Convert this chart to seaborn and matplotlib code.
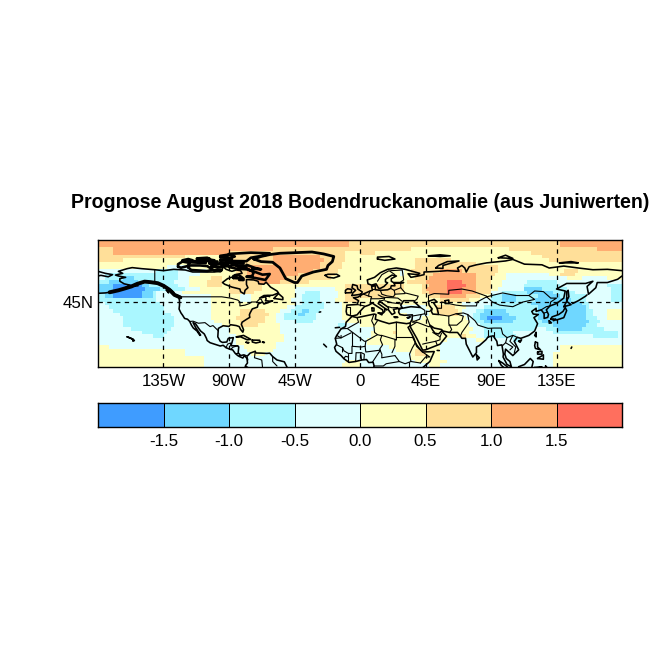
import numpy as np, pandas as pd
import matplotlib
matplotlib.use("Agg")
import matplotlib.pyplot as plt
import seaborn as sns
from matplotlib.colors import ListedColormap

sns.set_style("white")
plt.rcParams['font.family'] = ['Liberation Sans', 'DejaVu Sans']
plt.rcParams['xtick.color'] = 'k'
plt.rcParams['ytick.color'] = 'k'

# ---------- colour classes, class 0 = below -1.5 ... class 7 = above 1.5 ----------
level_colors = ["#3f9cff", "#6fd7ff", "#aaf7ff", "#e0ffff", "#ffffc0", "#ffdf99", "#ffad72", "#ff6f5e"]
level_mid = [-1.75, -1.25, -0.75, -0.25, 0.25, 0.75, 1.25, 1.75]
cbar_labels = ["-1.5", "-1.0", "-0.5", "0.0", "0.5", "1.0", "1.5"]
lon_ticks = [-135, -90, -45, 0, 45, 90, 135]
lon_labels = ["135W", "90W", "45W", "0", "45E", "90E", "135E"]

# the map's latitude axis is not quite linear, scale read from known coasts
scale_lat = [0, 8, 18.5, 33.5, 45, 63.5, 71, 83.5, 90]
scale_y = [-2, 10, 25, 47, 65, 89, 99, 115, 123]

# ---------- anomaly classes, "class:cells" per 2.5 deg row, north to south ----------
rows_180w_90w = [
    "6:36", "6:36", "5:4 6:32", "5:4 6:32", "5:24 4:12", "5:7 4:29", "4:36",
    "4:19 3:6 4:11", "3:16 2:6 3:8 4:6", "3:2 2:20 3:6 4:8",
    "3:2 2:5 1:3 2:12 3:3 4:6 5:3 4:2", "2:3 1:8 2:10 3:4 4:5 5:4 4:2",
    "1:4 0:8 1:2 2:8 3:3 4:5 5:4 4:2", "1:4 0:9 1:4 2:7 3:4 4:8",
    "1:3 0:9 1:3 2:1 3:7 4:13", "2:2 1:2 0:8 1:3 2:1 3:15 4:5",
    "2:16 3:15 4:5", "3:2 2:15 3:14 4:5", "3:3 2:15 3:13 4:5", "3:4 2:14 3:13 4:5",
    "3:6 2:14 3:11 4:5", "3:7 2:14 3:10 4:5", "3:7 2:14 3:11 4:4", "3:7 2:14 3:13 4:2",
    "3:9 2:11 3:16", "3:12 2:7 3:17", "3:15 2:3 3:18", "3:36", "3:36", "4:3 3:33",
    "4:24 3:12", "4:24 3:12", "4:29 3:7", "4:29 3:7", "4:29 3:7",
]
rows_90w_0 = [
    "6:33 5:3", "6:33 5:3", "6:12 5:24", "5:32 4:4", "5:12 6:13 5:7 4:4",
    "5:12 6:14 5:6 4:4", "4:3 5:9 6:13 5:6 4:5", "5:5 6:20 5:6 4:5",
    "4:2 5:3 6:18 5:7 4:6", "4:2 5:3 6:14 5:10 4:7", "4:1 5:5 6:10 5:12 4:8",
    "5:8 6:6 5:8 4:14", "5:9 4:23 5:4", "5:9 4:9 3:11 4:3 5:4",
    "5:7 4:11 3:3 2:4 3:5 4:2 5:4", "4:3 3:3 4:12 3:2 2:5 3:5 4:2 5:4",
    "4:3 3:3 4:11 3:3 2:5 3:4 4:3 5:4", "4:18 3:2 2:6 3:5 4:5", "4:16 3:2 2:8 3:5 4:5",
    "4:3 5:7 4:4 3:3 2:3 1:2 2:3 3:6 4:5", "4:3 5:8 4:2 3:2 2:4 1:2 2:3 3:7 4:5",
    "4:2 5:8 4:3 3:2 2:9 3:7 4:5", "4:3 5:7 4:3 3:5 2:5 3:9 4:4",
    "4:3 5:5 4:6 3:16 2:2 3:4", "4:14 3:22", "4:14 3:22", "3:2 4:13 3:21", "3:2 4:13 3:21",
    "3:2 4:11 3:23", "3:4 4:9 3:23", "3:5 4:7 3:24", "3:6 4:4 3:26", "3:36", "3:32 4:4", "3:31 4:5",
]
rows_0_90e = [
    "5:36", "5:36", "5:14 4:22", "5:4 4:32", "4:36", "4:15 5:10 4:11", "4:15 5:17 4:4",
    "4:15 5:21", "4:11 3:1 4:2 5:8 6:6 5:8", "4:11 3:1 4:3 5:5 6:12 5:4",
    "4:15 5:4 6:13 5:4", "4:13 5:5 6:6 7:4 6:4 5:4", "5:12 4:5 5:2 6:5 7:5 6:3 5:4",
    "5:12 4:5 5:1 6:6 7:4 6:4 5:4", "5:11 4:6 5:2 6:5 7:4 6:4 5:4",
    "5:10 4:9 5:3 6:7 5:4 4:3", "4:22 5:8 4:3 3:3", "4:28 3:8",
    "4:11 3:7 4:3 5:5 4:3 3:5 2:2", "4:11 3:8 4:2 5:6 4:1 3:4 2:2 1:2",
    "4:13 3:6 4:3 5:5 4:1 3:3 2:2 1:3", "4:13 3:4 4:12 3:2 2:2 1:2 0:1",
    "4:30 3:2 2:2 1:2", "4:30 3:3 2:3", "3:4 4:27 3:3 2:2", "3:3 4:6 5:1 4:20 3:4 2:2",
    "3:3 4:25 5:1 4:3 3:2 2:2", "3:2 4:22 3:8 4:2 3:2", "3:2 4:20 3:14", "3:8 4:14 3:14",
    "3:10 4:5 5:3 4:4 3:14", "3:14 4:1 5:3 4:4 3:14", "3:14 4:8 3:14", "3:15 4:9 3:12", "3:19 4:3 3:14",
]
rows_90e_180 = [
    "5:19 6:17", "5:19 6:17", "4:5 5:24 6:7", "4:11 5:25", "4:14 5:22", "4:16 5:20", "4:36",
    "5:2 4:34", "5:2 4:18 5:4 4:12", "5:1 4:3 3:12 4:3 5:4 4:13", "4:4 3:17 4:4 3:7 4:4",
    "4:3 3:7 2:8 3:18", "4:3 3:6 2:10 3:13 2:4", "4:2 3:7 1:5 2:7 3:12 2:3",
    "3:3 2:7 1:7 2:6 3:10 2:3", "2:3 1:4 2:6 1:6 2:7 3:7 2:3", "2:3 1:4 2:5 1:10 2:4 3:7 2:3",
    "2:11 1:14 2:2 3:9", "2:13 1:13 2:1 3:9", "1:4 2:9 1:13 2:2 3:4 4:4", "1:5 2:8 1:13 2:2 3:4 4:4",
    "0:3 1:4 2:6 1:13 2:3 3:3 4:4", "1:6 2:8 1:13 2:3 3:6", "2:17 1:9 2:3 3:7",
    "2:12 3:3 2:3 1:7 2:6 3:5", "2:6 3:11 2:18 3:1", "2:7 3:21 2:7 3:1", "3:6 2:2 3:28", "3:36",
    "3:19 4:17", "3:19 4:17", "3:17 4:19", "3:17 4:19", "3:17 4:19", "3:17 4:19",
]

# ---------- coastlines and borders, (lon, lat) read by eye ----------
north_america = [(-165,54.5),(-162,55),(-158,56.5),(-155,57.5),(-153.5,59),(-151.5,59.5),(-150,60.5),(-148,60.5),(-146,61),(-144,60),(-140,59.8),(-137,58.5),(-135,58),(-133,56.5),(-131,55),(-130,54.5),(-128,52.5),(-127.5,51),(-125,49.8),(-123,49),(-122.7,48),(-124.5,48.3),(-124,46),(-124,43),(-124.3,40.5),(-123,38),(-122,36.7),(-120.5,34.5),(-118.5,34),(-117,32.5),(-115.8,30),(-114.5,28),(-112,26),(-110,23),(-109.5,23.2),(-111,25.5),(-113,28.5),(-114.7,31.7),(-113,31),(-111,28),(-109.5,26),(-107,24),(-105.5,21),(-105,19.5),(-103,18),(-100,17),(-96,15.7),(-94,16.2),(-92,14.5),(-89,13.3),(-87.5,13),(-85.7,10.5),(-84,9),(-82.5,8.2),(-80.5,7.3),(-79.5,8.9),(-78,7.5),(-77.5,6),(-77.3,4),(-78.5,2.5),(-79,1),(-80,0)]
north_america_arctic = [(-165,54.5),(-163,55),(-158,58),(-162,59),(-165,61),(-165,63),(-161,64),(-166,65),(-168,65.7),(-163,67),(-166,68.5),(-160,70.5),(-156.5,71.3),(-150,70.5),(-141,69.7),(-135,69),(-128,70),(-120,69.5),(-115,68),(-108,68),(-100,68),(-95,69),(-94,72),(-92,70),(-88,68.5),(-85,69.5),(-82,69),(-81,67),(-86,66),(-87,64.5),(-91,63),(-94.5,60),(-93,58.7),(-88,56.5),(-82.5,55),(-82,52.9),(-79.5,51.2),(-79,54),(-77,56),(-78,58.5),(-78,62.3),(-73,62),(-70,61),(-69.5,59),(-66,58.7),(-64.5,60.3),(-61.5,56.5),(-57,53.5),(-56,52),(-60,50.2),(-66,50),(-69,48),(-65,49),(-64.5,47.5),(-65,46),(-61,45.5),(-60,46),(-63.5,44.5),(-66,43.7),(-67,45),(-70,43.7),(-70.5,41.7),(-74,40.6),(-75.5,38),(-76,36.8),(-75.7,35.2),(-78,33.9),(-81,32),(-81.5,30.5),(-80,26.8),(-80.5,25.2),(-82,27),(-83,29),(-85,29.7),(-89,30.3),(-90,29.1),(-94,29.6),(-97.3,27.8),(-97.5,25),(-97.7,22),(-96,19),(-94.5,18.2),(-91.5,18.5),(-90.5,21),(-87,21.5),(-88,18),(-88.7,15.9),(-84,15.8),(-83.3,15),(-83.7,11),(-82,9),(-79.8,9.5),(-77.5,8.6),(-75.5,10.7),(-72,12),(-71.5,10.8),(-68,10.7),(-64,10.5),(-62,10.7),(-60,8.3),(-57,6),(-52,4.8),(-50,1),(-50,0)]
gulf_alaska_thick = [(-172,52.5),(-166,54),(-162,55.3),(-157,57),(-153,59),(-148,60.7),(-144,60.3),(-139,59.5),(-135,57.5),(-131,54.5),(-127.5,50.5),(-123.5,48.5)]
greenland = [(-73,78),(-68,76),(-60,75.5),(-55,71),(-53,67),(-51,63),(-45,60),(-43,60),(-40,65),(-32,68),(-23,70),(-22,73),(-19,76),(-18,80),(-25,82),(-33,83.5),(-55,82.5),(-62,81.5),(-68,80),(-73,78)]
eurasia_north = [(-5.5,36),(-9,37),(-9.5,39),(-9,43),(-2,43.4),(-1,46),(-4.5,48.3),(-1.5,48.7),(1.5,50.8),(4,52),(7,53.5),(8.5,54),(8,57),(10.5,57.5),(10.5,54.5),(14,54),(19,54.4),(21,55.5),(21.5,57.5),(24,57.5),(23.5,59.3),(30,60),(23,60),(21.5,61),(21.5,63),(25,65),(22,65.7),(17.5,62.5),(17.5,60.5),(19,59.8),(16.5,57),(14,55.5),(12.8,55.5),(11,59),(8,58),(5.5,59),(5,62),(10,64),(14,67.5),(19,70),(25,71),(31,70),(41,67),(40,66),(33,66.7),(35,64),(40,65),(44,66),(44,68),(54,68.5),(60,69),(68,68.5),(67,71),(70,73),(72,71),(73,68),(75,72),(80,73.5),(87,75),(100,76.5),(105,77.7),(113,74),(125,73.5),(130,71),(140,72.5),(150,71),(160,69.7),(170,70),(180,69)]
eurasia_east = [(180,65),(177,62.5),(170,60),(163,60),(162,56),(157,51),(156,57),(160,61),(155,59.3),(142,59.3),(135,55),(141,53.5),(140,48),(135,44),(130.5,42.5),(128,40),(129.5,37),(129,35.2),(126.5,34.5),(126.5,37.5),(124.5,40),(121,39),(121,41),(118,39),(119,37.3),(122.5,37),(119.5,35),(122,31),(120,26),(116,23),(110.5,21),(108,21.7),(106,19),(109,13),(106,10),(105,9),(100,13.5),(99.5,10),(100.5,7),(103,5),(104,1.5),(101,3),(98.3,8),(98.5,10),(97.5,16.5),(94.5,16),(94,19),(91.5,22.7),(88,22),(86.5,20),(82,16),(80,15),(80,11),(77.5,8),(73,17),(72.5,21),(70,21),(69,22.5),(67,25),(61.5,25),(57,26),(56,27),(51,28),(48,30),(50,26.5),(51.5,24.5),(54,24),(56,26),(59.5,22.5),(55,17),(45,13),(43,12.8),(39,21),(35,28),(34.5,29.5)]
chukotka = [(-180,68.5),(-175,67),(-170,66),(-173,64.4),(-178,65.5),(-180,65)]
africa = [(34.5,29.5),(33,28.5),(35.5,24),(37,21),(39,15.5),(43,11.5),(51,11.8),(48,5),(42,-1)]
africa_north = [(34.5,31.5),(32,31),(25,32),(20,31),(15,32.5),(10.5,34),(11,37),(9.8,37.3),(-2,35),(-5.5,35.8),(-9.5,32),(-10,29),(-13,27.5),(-16,23),(-17,21),(-16,17),(-17.5,14.7),(-16.5,12),(-13,9),(-11,6.8),(-7.5,4.4),(-3,5),(1,6),(4.5,6.3),(6,4.3),(9,4.5),(9.7,2),(9,0)]
mediterranean_north = [(-5.5,36),(-2,36.8),(0,39),(3,42),(6,43),(8.5,44.3),(10.5,43),(15.5,40),(16,38),(17,39),(17,40.5),(18.5,40),(16,41.7),(12.5,44),(13.5,45.7),(15,44.5),(19.5,41.5),(19.5,40),(22,37),(24,38),(23,40.3),(26,40.8),(29,41),(35,42),(41.5,41.5),(38,44.5),(37,46),(33,46),(30,46),(28,43),(29,41.2),(27,40.5),(26.5,38.5),(27.5,37),(30.5,36.5),(36,36.8),(35.8,34),(34.5,31.5),(34.5,29.5)]

# arctic Canada is nearly solid black in the picture, drawn heavier
arctic_islands = [
    [(-125,72),(-123,71.2),(-118.5,72.5),(-117,75),(-122,76),(-125,74),(-125,72)],
    [(-118,71.5),(-116,69.5),(-105,68.7),(-101,69.7),(-105,72.5),(-110,73),(-117,73),(-118,71.5)],
    [(-102,72),(-96,71.5),(-93,72.5),(-96,74),(-102,73.5),(-102,72)],
    [(-95,72),(-90,72.5),(-91,74),(-95,74),(-95,72)],
    [(-90,71.8),(-85,70.5),(-78,70),(-72,68),(-67,66),(-62,66.5),(-64,63.5),(-65,62),(-72,63.5),(-78,64.5),(-74,65),(-73,68),(-80,72),(-88,73.5),(-90,71.8)],
    [(-92,75),(-80,74.5),(-80,75.5),(-92,76.5),(-92,75)],
    [(-90,76.5),(-78,76.3),(-75,79),(-65,81),(-62,82.5),(-75,83),(-90,82),(-92,80),(-88,78),(-90,76.5)],
    [(-96,79.5),(-90,78.5),(-86,80),(-90,81.5),(-96,80.5),(-96,79.5)],
    [(-117,75.5),(-106,74.8),(-106,76),(-117,76.5),(-117,75.5)],
    [(-104,75),(-98,75),(-98,76.5),(-104,76.5),(-104,75)],
    [(-122,76),(-115,77),(-118,78),(-122,77),(-122,76)],
    [(-112,78),(-103,78),(-105,79),(-112,78.5),(-112,78)],
    [(-100,69),(-96,68.5),(-95,69.5),(-98,70),(-100,69)],
    [(-87,63.5),(-80,63),(-83,65.5),(-87,65),(-87,63.5)],
    [(-96,77),(-91,77),(-91,78),(-96,78),(-96,77)],
    [(-85,73),(-80,73),(-78,72),(-84,72),(-85,73)],
    [(-110,76.5),(-103,77.5),(-100,77),(-106,76.3)],
    [(-78,73.5),(-72,71),(-68,70),(-74,70.5)],
    [(-100,74),(-94,74.5),(-90,75),(-96,75.5)],
    [(-82,62.5),(-80,62),(-83,62)],
]

islands = [
    [(-59,47.7),(-53,46.8),(-53,48.5),(-56,51.5),(-59,48),(-59,47.7)],
    [(-64.5,49.8),(-62,49.2),(-63,49.9),(-64.5,49.8)],
    [(-128,50.5),(-123.5,48.4),(-125,50),(-128,50.5)],
    [(-133,54),(-131.5,52),(-132,54),(-133,54)],
    [(-154.5,57.5),(-152.5,57.5),(-153,58.2),(-154.5,57.5)],
    [(-24,65.5),(-22,64),(-18,63.5),(-14,65),(-16,66.3),(-22,66.3),(-24,65.5)],
    [(12,78),(17,77),(24,78),(20,80),(12,79.5),(12,78)],
    [(52,71),(57,70.7),(57,73),(68,76.5),(60,76),(54,73),(52,71)],
    [(47,80.5),(55,80),(62,80.5),(55,81.3),(47,80.5)],
    [(95,79),(105,78.5),(100,81),(95,79)],
    [(137,75),(150,75),(145,76),(137,75)],
    [(-85,22),(-80,23),(-75,20.3),(-77.5,20),(-82,22),(-85,22)],
    [(-74,19.8),(-69,19.7),(-68.5,18.5),(-71.5,17.8),(-74,18.5),(-74,19.8)],
    [(-78.3,18.3),(-76.3,18.1),(-77,17.8),(-78.3,18.3)],
    [(-67,18.4),(-65.7,18.3),(-66,18),(-67,18.4)],
    [(-160,22),(-158,21.3),(-155.5,20),(-155,19.5),(-156,19),(-156,20.5),(-160,22)],
    [(-5.5,50),(1,51),(1.5,52.8),(-1.5,55),(-2,57.5),(-5,58.5),(-5.5,56),(-3,54),(-5,52),(-5.5,50)],
    [(-10,52),(-6,52.2),(-5.7,54.7),(-8.5,55.2),(-10,54),(-10,52)],
    [(8.5,41),(9.5,41),(9.5,39),(8.5,39),(8.5,41)],
    [(12.5,38),(15.5,38),(15,36.8),(12.5,38)],
    [(23.5,35.5),(26,35.2),(24,35),(23.5,35.5)],
    [(32.5,35),(34.5,35.6),(33.5,34.7),(32.5,35)],
    [(47,45.5),(51,47),(53,45),(50.5,44.5),(53,41),(54,37),(50,37.3),(49,39),(49.5,40.5),(47.5,43),(47,45.5)],
    [(58.5,46),(61,46.5),(61,44),(58.5,44),(58.5,46)],
    [(131,34),(135,33.5),(140,35),(142,39.5),(141,41.5),(139.5,39),(136.5,37),(132,35.5),(131,34)],
    [(140,42),(145,43.3),(142,45.5),(140,42)],
    [(130,33),(131.5,31.5),(130,31.3),(130,33)],
    [(132.5,34),(134.5,34),(133,33),(132.5,34)],
    [(142,46),(143.5,49),(143,54),(142,53),(142,46)],
    [(121,25),(121,22),(120,23),(121,25)],
    [(109,19),(111,20),(110,18.3),(109,19)],
    [(120.5,18.5),(122,18),(122,15),(124,13),(120.5,14),(120,16),(120.5,18.5)],
    [(122,7),(126,9.5),(126,6.5),(122,7)],
    [(122,11.5),(125,12),(125,10),(122,10),(122,11.5)],
    [(109,1.5),(113,3),(117,7),(119,5),(118,1),(117,0),(109,0),(109,1.5)],
    [(95.3,5.6),(98,4),(103,0),(100,0),(97,2.5),(95.3,5.6)],
    [(80,9.5),(82,7.5),(80.5,6),(80,9.5)],
    [(120,1),(125,1.5),(120,0),(120,1)],
    [(127.5,2),(128.5,1),(127.5,0),(127.5,2)],
    [(146,44),(150,46),(155,49.5),(156,50.5)],
    [(-180,51.7),(-175,52),(-170,52.8)],
    [(53,12.6),(54.5,12.5)],
    [(-25,17),(-23,15)],
    [(-28,38.5),(-27,38.7)],
    [(-17,28.2),(-14,28.5)],
    [(145,14),(145.5,15)],
]

borders = [
    [(-123,49),(-95,49),(-89,48),(-84,46.5),(-82.5,45),(-82.5,42.5),(-79,43),(-76,44),(-74.5,45),(-71,45),(-69,47.3),(-67.8,47),(-67,45)],
    [(-141,69.7),(-141,60),(-137,59),(-133,56)],
    [(-117,32.5),(-114.7,32.7),(-111,31.3),(-106.5,31.7),(-103,29),(-101,29.7),(-97.2,26)],
    [(-92,14.5),(-91,17),(-89,17.8),(-88.7,15.9)],
    [(-89,13.3),(-87,15),(-84,15.8)],
    [(-85.7,11),(-83.7,11)],
    [(-83,8.2),(-82.7,9.5)],
    [(-77.5,8),(-77,6)],
    [(-72,12),(-72.5,7.5),(-67.5,6),(-67,1.5)],
    [(-60,8.3),(-60,5),(-57,2)],
    [(-78.5,2),(-75,0)],
    [(-8.7,42),(-7,42),(-7,37.5)],
    [(-2,43.4),(3,42.5)],
    [(2.5,51),(6,49.5),(8,49),(7.5,47.5),(7,44)],
    [(7,53.5),(6,51),(6,49.5)],
    [(8.5,54.8),(10,54.8)],
    [(14,54),(15,51),(18.5,49.7),(23,49),(24,51),(23.5,54),(21,55.5)],
    [(7.5,47.5),(13,47.5),(17,48),(16.5,46.5),(13.5,45.7)],
    [(12.5,50.5),(15,49),(17,48.5),(22,48.3),(26,48),(29,45.5)],
    [(17,46),(22,44.5),(28,43.8)],
    [(19.5,42),(22,41.3),(26,41.5)],
    [(28,56),(31,52),(40,49.5),(39,47),(37.5,46)],
    [(23.5,54),(28,56),(28,59.5)],
    [(24,51),(31,51.5)],
    [(21,69),(29,69.5),(30,62),(28,60.5)],
    [(12,61),(15,66),(20,69),(24,66)],
    [(47,50),(51,51.5),(61,51),(61,54),(70,55),(77,53.5),(87,49.5)],
    [(47,45.5),(47,50)],
    [(87,49),(98,52),(107,50),(116,50),(120,47),(112,45),(105,42),(96,43),(91,45),(87,49)],
    [(116,50),(120,53.5),(126,53),(131,48),(135,48),(131,45),(130.5,42.5)],
    [(124.5,40),(128,42),(130.5,42.5)],
    [(126.5,38),(128.5,38.5)],
    [(53,41),(56,41),(56,45),(61,44),(66,43),(71,42.5),(80,42.5),(80.5,45),(87,49)],
    [(54,37),(61,36),(66,37.5),(71,38),(74,37)],
    [(74,37),(79,33),(81,30),(88,27.8),(92,28),(97,28),(98,24),(101,21.5),(105,23),(108,21.7)],
    [(61,36),(61,31),(63,27),(61.5,25)],
    [(66,37.5),(71,36),(70,33),(66.5,30),(61,30)],
    [(74,37),(75,32),(70,25),(69,22.5)],
    [(88,27),(88,22)],
    [(92,25),(92,21)],
    [(101,21.5),(100,18),(98,16)],
    [(105,23),(103,19),(107,15),(106,11)],
    [(100,18),(105,15),(103,13)],
    [(35.8,36),(42,37),(44.5,37.5),(44.5,39.7),(41.5,41.5)],
    [(44.5,37.5),(46,35),(48,30)],
    [(46,39),(48,39),(49.5,41)],
    [(42,37),(41,34),(37,32.5),(35.5,33)],
    [(36,32),(39,32),(47,29),(48,29)],
    [(34.9,29.5),(39,32)],
    [(50,25),(55,22),(55,20),(52,19),(45,17.5),(43,17)],
    [(55,22),(56,24.5)],
    [(52,19),(53,16.5)],
    [(-2,35),(-1,32),(-8.7,27.7),(-13,27.5)],
    [(-8.7,27.7),(-5,25),(3,19),(4,19),(12,23.5),(14,23),(15,23)],
    [(9.5,37),(8,33),(9.5,30),(10,25),(12,23.5)],
    [(10,30),(12,33)],
    [(25,32),(25,20),(24,20),(24,15.5),(22,11)],
    [(25,22),(36,22)],
    [(25,20),(15,23),(14,20),(15.5,16.5),(13.5,13.5),(15,10),(15,7.5)],
    [(4,19),(3.5,15.5),(1,15),(-5.5,15.5),(-5.5,10.5),(-8,10.5),(-11,12.3),(-12,14.5)],
    [(-5.5,25),(-5.5,15.5)],
    [(-16,16.5),(-12,14.5),(-12,11.5)],
    [(-16,23),(-13,21.3),(-6,24.8)],
    [(-17,21),(-13,21.3),(-13,23)],
    [(3.5,15.5),(4,11.5),(14,12.8)],
    [(-2.5,11),(1,11),(3,10),(2.7,6.3)],
    [(-3,5),(-2.7,11)],
    [(1,6),(0.5,11)],
    [(-8,4.5),(-8,8),(-8,10)],
    [(-11,7),(-10,8.5),(-8,8)],
    [(8.5,4.5),(14,12.8)],
    [(9.7,2),(16,2),(18,3.5),(27,5),(31,3.5),(35,5),(41.5,4)],
    [(24,9),(27,5)],
    [(24,9),(15,7.5)],
    [(36,22),(38,18),(36,14.5),(34,10),(35,5)],
    [(41.5,4),(45,8),(48,8),(43,11.5)],
    [(42,12.5),(38,18)],
    [(30,-1),(34,0),(34,4.5)],
]

# ---------- build the grid ----------
lats = 86.25 - 2.5 * np.arange(35)
lons = -178.75 + 2.5 * np.arange(144)


def expand(tile):
    out = []
    for run in tile.split():
        c, n = run.split(":")
        out += [level_mid[int(c)]] * int(n)
    return out


def draw(ax, line, lw):
    x, y = zip(*line)
    ax.plot(x, np.interp(y, scale_lat, scale_y), color="k", lw=lw, solid_joinstyle="round")


grid = [expand(a) + expand(b) + expand(c) + expand(d)
        for a, b, c, d in zip(rows_180w_90w, rows_90w_0, rows_0_90e, rows_90e_180)]
anomaly = pd.DataFrame(grid, index=lats, columns=lons)
cmap = ListedColormap(level_colors)

fig = plt.figure(figsize=(6.54, 6.54), dpi=100)
pos_map = [98 / 654, 1 - 367 / 654, 524 / 654, 127 / 654]
pos_bar = [98 / 654, 1 - 427 / 654, 524 / 654, 24 / 654]

# ---------- map ----------
ax = fig.add_axes(pos_map)
sns.heatmap(anomaly, ax=ax, cmap=cmap, vmin=-2, vmax=2, cbar=False, xticklabels=False, yticklabels=False)
ax.set_xlabel(""); ax.set_ylabel("")

geo = fig.add_axes(pos_map, facecolor="none")
geo.set_xlim(-180, 180)
geo.set_ylim(0, 127)
for line in [north_america, north_america_arctic, eurasia_north, eurasia_east, chukotka,
             africa, africa_north, mediterranean_north] + islands:
    draw(geo, line, 1.15)
for line in borders:
    draw(geo, line, 0.8)
for line in arctic_islands:
    draw(geo, line, 1.9)
draw(geo, gulf_alaska_thick, 2.8)
draw(geo, greenland, 2.0)

for lon in lon_ticks:
    geo.axvline(lon, color="k", lw=0.9, dashes=(3.5, 3.5))
geo.axhline(np.interp(45, scale_lat, scale_y), color="k", lw=0.9, dashes=(3.5, 3.5))

geo.set_xticks(lon_ticks)
geo.set_xticklabels(lon_labels, fontsize=12.2)
geo.set_yticks([np.interp(45, scale_lat, scale_y)])
geo.set_yticklabels(["45N"], fontsize=12.2)
geo.tick_params(axis="x", length=0, pad=5)
geo.tick_params(axis="y", length=0, pad=3.5)
for s in geo.spines.values():
    s.set_visible(True); s.set_color("k"); s.set_linewidth(1.0)

fig.text(360 / 654, 1 - 202 / 654, "Prognose August 2018 Bodendruckanomalie (aus Juniwerten)",
         ha="center", va="center", fontsize=14.15, fontweight="bold", color="k")

# ---------- colour bar ----------
cax = fig.add_axes(pos_bar)
sns.heatmap(pd.DataFrame([level_mid]), ax=cax, cmap=cmap, vmin=-2, vmax=2, cbar=False,
            linewidths=0.5, linecolor="k", xticklabels=False, yticklabels=False)
cax.set_xticks(np.arange(1, 8))
cax.set_xticklabels(cbar_labels, fontsize=12.2, rotation=0)
cax.set_yticks([])
cax.tick_params(length=0, pad=5)
for s in cax.spines.values():
    s.set_visible(True); s.set_color("k"); s.set_linewidth(1.0)

fig.savefig("out.png", dpi=100)
